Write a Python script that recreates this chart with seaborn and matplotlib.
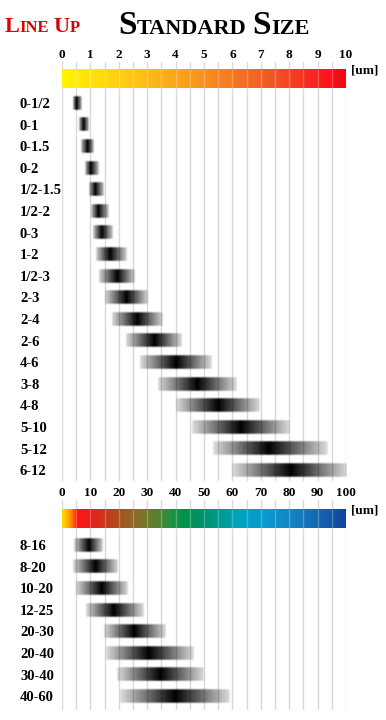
import numpy as np
import matplotlib
matplotlib.use('Agg')
import matplotlib.pyplot as plt
import seaborn as sns
from matplotlib.colors import LinearSegmentedColormap

# Standard size line up (0-10 um scale)
labels_std = ['0-1/2', '0-1', '0-1.5', '0-2', '1/2-1.5', '1/2-2', '0-3', '1-2', '1/2-3',
              '2-3', '2-4', '2-6', '4-6', '3-8', '4-8', '5-10', '5-12', '6-12']
low_std = [0.36, 0.57, 0.63, 0.76, 0.92, 1.00, 1.07, 1.17, 1.28,
           1.49, 1.73, 2.23, 2.71, 3.36, 3.98, 4.53, 5.27, 5.94]
peak_std = [0.52, 0.77, 0.89, 0.99, 1.16, 1.28, 1.40, 1.69, 1.95,
            2.28, 2.65, 3.27, 4.01, 4.78, 5.50, 6.27, 7.26, 8.03]
high_std = [0.74, 0.99, 1.14, 1.30, 1.49, 1.67, 1.81, 2.30, 2.60,
            3.07, 3.57, 4.27, 5.29, 6.21, 7.00, 8.03, 9.36, 10.08]
ticks_std = list(range(0, 11))

# Large size line up (0-100 um scale)
labels_big = ['8-16', '8-20', '10-20', '12-25', '20-30', '20-40', '30-40', '40-60']
low_big = [3.8, 3.6, 4.6, 8.1, 14.3, 15.1, 19.0, 20.2]
peak_big = [9.3, 11.9, 14.0, 18.1, 25.1, 30.4, 34.5, 39.8]
high_big = [14.5, 20.1, 23.6, 28.9, 36.5, 46.5, 50.0, 59.5]
ticks_big = list(range(0, 101, 10))

W, H = 386, 720
ROW = 21.6      # row spacing in px
BAR_H = 15.5    # bar thickness in px

sns.set_theme(style='white')
plt.rcParams['font.family'] = ['Liberation Serif', 'DejaVu Serif']
plt.rcParams['font.weight'] = 'bold'
plt.rcParams['text.color'] = 'black'
plt.rcParams['xtick.color'] = 'black'
plt.rcParams['ytick.color'] = 'black'

cmap_std = LinearSegmentedColormap.from_list('std', [
    (0.0, '#FFF500'), (0.25, '#FFC516'), (0.5, '#F8921F'),
    (0.75, '#F15426'), (1.0, '#FF0018')])
cmap_big = LinearSegmentedColormap.from_list('big', [
    (0.0, '#FFD800'), (0.025, '#FF9A00'), (0.05, '#FF1515'), (0.10, '#E8201A'),
    (0.15, '#C8381A'), (0.20, '#A8501E'), (0.27, '#857028'), (0.33, '#5A802E'),
    (0.38, '#259040'), (0.43, '#00914C'), (0.50, '#00926E'), (0.56, '#009A92'),
    (0.62, '#00A2BE'), (0.72, '#0A9AD0'), (0.82, '#1580C0'), (0.91, '#1465AE'),
    (1.0, '#0F459E')])

fig = plt.figure(figsize=(W / 100, H / 100), dpi=100)


def add_axes_px(left, top, right, bottom):
    return fig.add_axes([left / W, 1 - bottom / H, (right - left) / W, (bottom - top) / H])


def draw_section(top, cbar_top, cbar_bot, first_row, bottom, xmax, ticks, minor_step,
                 labels, low, peak, high, cmap):
    ax = add_axes_px(62, top, 346, bottom)
    ppu = 284 / xmax

    def yd(px):
        return (px - first_row) / ROW

    # colour scale strip
    ax.imshow(np.linspace(0, 1, 400)[None, :], cmap=cmap, aspect='auto',
              extent=[0, xmax, yd(cbar_bot), yd(cbar_top)], zorder=1)
    ax.vlines(np.arange(minor_step, xmax, minor_step), yd(cbar_bot), yd(cbar_top),
              color='white', alpha=0.25, lw=1, zorder=2)

    # gradient bars
    half = BAR_H / ROW / 2
    for i in range(len(labels)):
        xs = np.linspace(low[i], high[i], 300)
        t = np.where(xs < peak[i], (peak[i] - xs) / (peak[i] - low[i]),
                     (xs - peak[i]) / (high[i] - peak[i]))
        d = 0.12 + 0.88 * (1 - np.clip(t, 0, 1))
        edge = np.clip(np.minimum(xs - low[i], high[i] - xs) * ppu / 2.0, 0, 1)
        ys = np.linspace(0, BAR_H, 32)
        v = np.clip(np.minimum(ys, BAR_H - ys) / 2.0, 0, 1)
        rgba = np.zeros((len(ys), len(xs), 4))
        rgba[..., 3] = np.outer(v, d * edge)
        ax.imshow(rgba, extent=[low[i], high[i], i + half, i - half],
                  aspect='auto', interpolation='bilinear', zorder=3)

    ax.set_xlim(0, xmax)
    ax.set_ylim(yd(bottom), yd(top))

    ax.set_xticks(ticks)
    ax.set_xticks(np.arange(0, xmax + minor_step / 2, minor_step), minor=True)
    ax.set_xticklabels([str(t) for t in ticks])
    ax.xaxis.tick_top()
    ax.tick_params(axis='x', which='both', length=0, pad=1, labelsize=9.5)
    ax.grid(axis='x', which='both', color='#d9d9d9', lw=1)
    ax.grid(axis='y', visible=False)
    ax.set_axisbelow(True)

    ax.set_yticks(range(len(labels)))
    ax.set_yticklabels(labels, ha='left')
    ax.tick_params(axis='y', length=0, pad=42 * 0.72, labelsize=10.5)
    sns.despine(ax=ax, left=True, bottom=True, top=True, right=True)

    ax.text(xmax * 1.019, yd(cbar_top + 1.5), '[um]', ha='left', va='center',
            fontsize=9.5, fontweight='bold', clip_on=False)
    return ax


draw_section(62, 69, 88, 103, 481, 10, ticks_std, 0.5,
             labels_std, low_std, peak_std, high_std, cmap_std)
draw_section(500, 509, 528, 545, 710, 100, ticks_big, 5,
             labels_big, low_big, peak_big, high_big, cmap_big)

# small-caps titles
renderer = fig.canvas.get_renderer()


def caps_text(x_px, y_px, parts, color):
    x = x_px
    for s, size in parts:
        if s == ' ':
            x += size
            continue
        t = fig.text(x / W, 1 - y_px / H, s, fontsize=size, color=color,
                     fontweight='bold', ha='left', va='baseline')
        x += t.get_window_extent(renderer).width


caps_text(5, 31.5, [('L', 16), ('INE', 12), (' ', 4), ('U', 16), ('P', 12)], '#DD0000')
caps_text(118, 34.5, [('S', 24), ('TANDARD', 16), (' ', 6), ('S', 24), ('IZE', 16)], 'black')

fig.savefig('out.png', dpi=100)
